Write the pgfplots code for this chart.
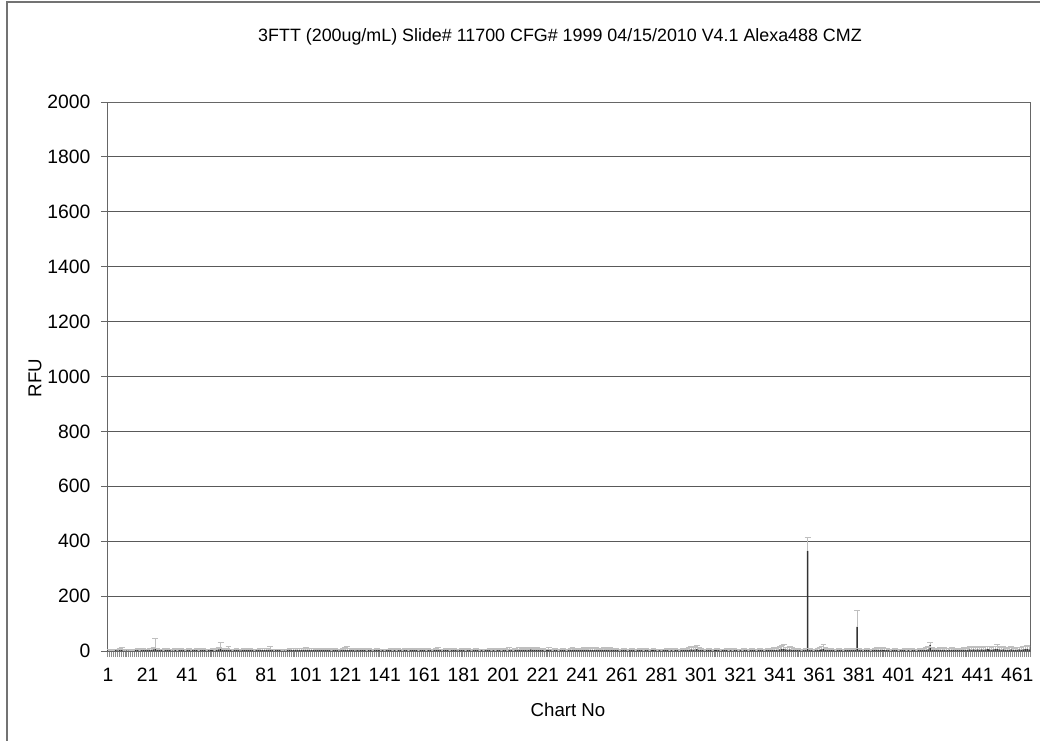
\documentclass[border=0pt]{standalone}
\usepackage{pgfplots}
\pgfplotsset{compat=1.18}
\usepackage{pgfplotstable}
\usepackage{fontspec}
\setmainfont{Liberation Sans}
\pgfplotstableread[row sep=\\]{
x y e\\
1 2 3\\ 2 3 2\\ 3 1 2\\ 4 2 4\\ 5 3 3\\ 6 2 5\\ 7 4 6\\ 8 5 7\\ 9 2 3\\ 10 3 2\\
11 2 2\\ 12 3 3\\ 13 1 2\\ 14 2 3\\ 15 4 3\\ 16 3 5\\ 17 2 2\\ 18 3 4\\ 19 5 6\\ 20 4 3\\
21 3 4\\ 22 5 6\\ 23 4 5\\ 24 6 8\\ 25 10 37\\ 26 5 6\\ 27 3 4\\ 28 4 3\\ 29 2 3\\ 30 3 5\\
31 4 6\\ 32 3 4\\ 33 2 3\\ 34 3 2\\ 35 4 5\\ 36 2 3\\ 37 3 4\\ 38 5 6\\ 39 3 3\\ 40 2 2\\
41 3 4\\ 42 4 5\\ 43 2 3\\ 44 3 4\\ 45 4 3\\ 46 3 5\\ 47 2 2\\ 48 3 3\\ 49 4 4\\ 50 3 4\\
51 2 3\\ 52 3 4\\ 53 4 3\\ 54 3 5\\ 55 2 3\\ 56 4 4\\ 57 6 8\\ 58 8 22\\ 59 4 5\\ 60 3 4\\
61 4 4\\ 62 5 12\\ 63 3 4\\ 64 2 3\\ 65 3 4\\ 66 4 5\\ 67 3 3\\ 68 2 4\\ 69 3 3\\ 70 4 5\\
71 3 4\\ 72 4 6\\ 73 5 5\\ 74 3 4\\ 75 2 3\\ 76 3 4\\ 77 4 3\\ 78 3 5\\ 79 4 4\\ 80 3 5\\
81 4 6\\ 82 5 6\\ 83 5 12\\ 84 3 4\\ 85 2 3\\ 86 3 4\\ 87 4 3\\ 88 3 4\\ 89 2 3\\ 90 3 2\\
91 2 3\\ 92 3 4\\ 93 4 5\\ 94 3 6\\ 95 4 5\\ 96 5 6\\ 97 4 5\\ 98 3 6\\ 99 4 7\\ 100 5 6\\
101 4 8\\ 102 5 6\\ 103 4 5\\ 104 3 7\\ 105 4 6\\ 106 3 4\\ 107 4 5\\ 108 3 3\\ 109 4 5\\ 110 3 4\\
111 3 4\\ 112 4 5\\ 113 3 4\\ 114 2 3\\ 115 3 5\\ 116 4 4\\ 117 3 3\\ 118 2 4\\ 119 3 3\\ 120 4 5\\
121 5 8\\ 122 4 12\\ 123 3 5\\ 124 4 4\\ 125 3 3\\ 126 2 4\\ 127 3 5\\ 128 4 4\\ 129 3 3\\ 130 4 5\\
131 3 4\\ 132 2 3\\ 133 4 5\\ 134 3 4\\ 135 2 3\\ 136 3 4\\ 137 4 5\\ 138 3 4\\ 139 2 3\\ 140 3 4\\
141 2 3\\ 142 3 4\\ 143 3 4\\ 144 4 5\\ 145 2 3\\ 146 3 5\\ 147 2 3\\ 148 4 4\\ 149 3 4\\ 150 2 3\\
151 4 5\\ 152 3 4\\ 153 2 3\\ 154 3 6\\ 155 5 6\\ 156 3 4\\ 157 4 5\\ 158 2 3\\ 159 3 4\\ 160 4 5\\
161 3 4\\ 162 2 3\\ 163 4 4\\ 164 3 4\\ 165 2 3\\ 166 3 4\\ 167 4 6\\ 168 5 7\\ 169 3 4\\ 170 2 3\\
171 3 4\\ 172 4 5\\ 173 3 4\\ 174 2 3\\ 175 3 5\\ 176 4 4\\ 177 3 3\\ 178 2 4\\ 179 3 3\\ 180 4 5\\
181 3 4\\ 182 2 3\\ 183 4 5\\ 184 3 4\\ 185 2 3\\ 186 3 4\\ 187 4 5\\ 188 3 4\\ 189 2 3\\ 190 3 4\\
191 2 3\\ 192 3 4\\ 193 3 4\\ 194 4 5\\ 195 2 3\\ 196 3 5\\ 197 2 3\\ 198 4 4\\ 199 3 4\\ 200 2 3\\
201 4 7\\ 202 3 5\\ 203 2 3\\ 204 5 7\\ 205 3 4\\ 206 2 3\\ 207 4 6\\ 208 3 4\\ 209 5 7\\ 210 3 4\\
211 4 6\\ 212 5 8\\ 213 3 4\\ 214 4 7\\ 215 6 8\\ 216 4 5\\ 217 3 4\\ 218 5 7\\ 219 4 5\\ 220 3 4\\
221 4 6\\ 222 2 3\\ 223 3 4\\ 224 5 7\\ 225 3 4\\ 226 2 3\\ 227 4 5\\ 228 3 4\\ 229 2 3\\ 230 3 4\\
231 4 5\\ 232 3 4\\ 233 2 3\\ 234 3 4\\ 235 4 6\\ 236 5 7\\ 237 4 5\\ 238 3 4\\ 239 4 6\\ 240 3 4\\
241 4 6\\ 242 5 7\\ 243 3 4\\ 244 4 6\\ 245 5 8\\ 246 4 6\\ 247 3 5\\ 248 5 7\\ 249 4 6\\ 250 3 4\\
251 4 5\\ 252 5 7\\ 253 4 6\\ 254 3 4\\ 255 5 7\\ 256 4 5\\ 257 3 4\\ 258 4 6\\ 259 3 4\\ 260 2 3\\
261 3 4\\ 262 4 5\\ 263 3 4\\ 264 2 3\\ 265 3 4\\ 266 4 5\\ 267 3 4\\ 268 2 3\\ 269 3 4\\ 270 4 5\\
271 3 4\\ 272 2 3\\ 273 4 5\\ 274 3 4\\ 275 2 3\\ 276 3 4\\ 277 4 5\\ 278 3 4\\ 279 2 3\\ 280 3 4\\
281 2 3\\ 282 3 4\\ 283 3 4\\ 284 4 5\\ 285 2 3\\ 286 3 5\\ 287 2 3\\ 288 4 4\\ 289 3 4\\ 290 2 3\\
291 3 4\\ 292 4 5\\ 293 3 4\\ 294 4 6\\ 295 5 7\\ 296 6 9\\ 297 5 8\\ 298 6 10\\ 299 7 12\\ 300 5 7\\
301 4 6\\ 302 3 4\\ 303 2 3\\ 304 3 4\\ 305 4 5\\ 306 3 4\\ 307 2 3\\ 308 3 4\\ 309 4 5\\ 310 3 4\\
311 2 3\\ 312 3 4\\ 313 3 4\\ 314 4 5\\ 315 2 3\\ 316 3 5\\ 317 2 3\\ 318 4 4\\ 319 3 4\\ 320 2 3\\
321 3 4\\ 322 2 3\\ 323 4 5\\ 324 3 4\\ 325 2 3\\ 326 3 4\\ 327 4 5\\ 328 3 4\\ 329 2 3\\ 330 3 4\\
331 4 5\\ 332 3 4\\ 333 2 3\\ 334 3 4\\ 335 4 5\\ 336 3 4\\ 337 4 6\\ 338 5 7\\ 339 4 6\\ 340 5 8\\
341 6 9\\ 342 7 12\\ 343 8 14\\ 344 6 8\\ 345 5 7\\ 346 6 9\\ 347 5 7\\ 348 4 6\\ 349 3 4\\ 350 4 5\\
351 3 4\\ 352 2 3\\ 353 3 4\\ 354 4 5\\ 355 365 50\\ 356 4 5\\ 357 3 4\\ 358 2 3\\ 359 3 4\\ 360 4 6\\
361 5 7\\ 362 6 9\\ 363 8 16\\ 364 5 7\\ 365 4 6\\ 366 3 4\\ 367 4 5\\ 368 3 4\\ 369 2 3\\ 370 3 4\\
371 4 5\\ 372 3 4\\ 373 2 3\\ 374 3 4\\ 375 4 5\\ 376 3 4\\ 377 4 6\\ 378 3 4\\ 379 4 5\\ 380 88 59\\
381 4 5\\ 382 3 4\\ 383 2 3\\ 384 3 4\\ 385 4 5\\ 386 3 4\\ 387 2 3\\ 388 3 4\\ 389 4 5\\ 390 5 7\\
391 4 7\\ 392 5 8\\ 393 4 8\\ 394 3 5\\ 395 4 6\\ 396 3 4\\ 397 2 3\\ 398 3 4\\ 399 4 5\\ 400 3 4\\
401 2 3\\ 402 3 4\\ 403 3 4\\ 404 4 5\\ 405 2 3\\ 406 3 5\\ 407 2 3\\ 408 4 4\\ 409 3 4\\ 410 2 3\\
411 3 4\\ 412 4 5\\ 413 3 4\\ 414 4 6\\ 415 5 7\\ 416 6 9\\ 417 22 8\\ 418 5 7\\ 419 4 5\\ 420 3 4\\
421 4 6\\ 422 5 7\\ 423 4 6\\ 424 5 8\\ 425 4 7\\ 426 3 5\\ 427 4 6\\ 428 5 7\\ 429 4 6\\ 430 3 4\\
431 4 5\\ 432 3 4\\ 433 4 6\\ 434 5 7\\ 435 4 6\\ 436 5 8\\ 437 6 9\\ 438 5 8\\ 439 6 9\\ 440 5 7\\
441 6 9\\ 442 5 8\\ 443 6 10\\ 444 5 8\\ 445 6 9\\ 446 7 11\\ 447 6 9\\ 448 5 8\\ 449 6 9\\ 450 7 10\\
451 8 15\\ 452 6 9\\ 453 5 8\\ 454 6 9\\ 455 5 7\\ 456 4 6\\ 457 5 8\\ 458 6 9\\ 459 5 7\\ 460 4 6\\
461 5 7\\ 462 6 8\\ 463 5 7\\ 464 6 9\\ 465 7 10\\ 466 8 12\\ 467 6 9\\
}\datatable
\begin{document}
\begin{tikzpicture}
\useasboundingbox (0,0) rectangle (780pt,555pt);
\draw[black!55, line width=0.8pt] (5.25pt,-5pt) -- (5.25pt,553.5pt) -- (790pt,553.5pt);
\begin{axis}[
  at={(80.25pt,66.75pt)}, anchor=south west,
  scale only axis, width=692.25pt, height=411.75pt,
  xmin=0.5, xmax=467.5, ymin=0, ymax=2000,
  ytick={0,200,...,2000},
  xtick={1,21,...,461},
  minor xtick={0.5,1.5,...,467.5},
  ymajorgrids,
  grid style={black!65, line width=0.6pt},
  axis line style={black!60, line width=0.7pt},
  tick align=outside, tick pos=left,
  major tick length=4.5pt, minor tick length=4.5pt,
  major x tick style={draw=none},
  minor x tick style={black!45, line width=0.4pt},
  ytick style={black!60, line width=0.7pt},
  ticklabel style={font=\fontsize{14.5}{16}\selectfont},
  /pgf/number format/assume math mode=true,
  /pgf/number format/1000 sep={},
  xticklabel style={anchor=north, text height=10.4pt, text depth=0pt, yshift=-4.5pt},
  yticklabel style={xshift=-4.5pt},
]
\addplot[ybar, bar width=0.75, fill=black!80, draw=none,
  error bars/.cd, y dir=plus, y explicit,
  error bar style={black!25, line width=0.7pt},
  error mark options={rotate=90, mark size=2.2pt, black!25, line width=0.7pt}]
  table[x=x, y=y, y error=e]{\datatable};
\end{axis}
\node[font=\fontsize{13.4}{15}\selectfont] at (420pt,527.25pt) {3FTT (200ug/mL) Slide\# 11700 CFG\# 1999 04/15/2010 V4.1 Alexa488 CMZ};
\node[font=\fontsize{14}{16}\selectfont, rotate=90] at (26.25pt,271.5pt) {RFU};
\node[font=\fontsize{14}{16}\selectfont] at (426pt,22.5pt) {Chart No};
\end{tikzpicture}
\end{document}
